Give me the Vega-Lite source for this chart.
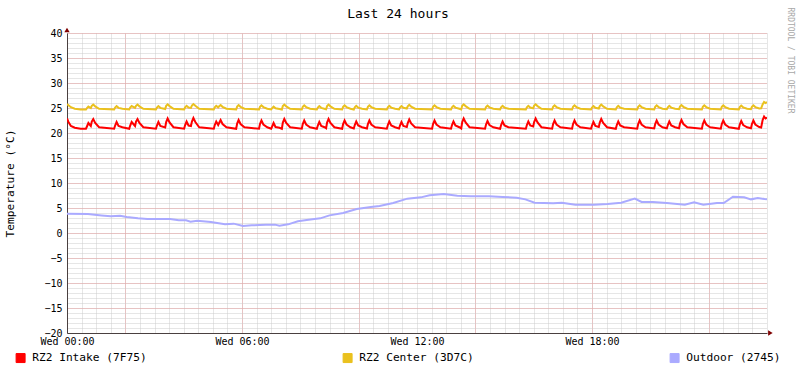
{
"$schema":"https://vega.github.io/schema/vega-lite/v6.json",
"autosize":{"type":"none"},
"width":700,"height":300,
"padding":{"left":67,"top":33,"right":30,"bottom":40},
"background":"white",
"config":{"view":{"stroke":null},"font":"DejaVu Sans Mono"},
"title":{"text":"Last 24 hours","font":"DejaVu Sans Mono","fontSize":13,"fontWeight":"normal","color":"black","anchor":"middle","dx":-19,"offset":-14},
"resolve":{"axis":{"y":"independent","x":"independent"}},
"layer":[
{
"data":{"values":[
{"t":0,"i":22.9,"c":25.8},{"t":3,"i":22.2,"c":25.55},{"t":8,"i":21.4,"c":25.15},{"t":16,"i":21.05,"c":24.85},{"t":28,"i":20.85,"c":24.7},
{"t":39,"i":20.85,"c":24.7},{"t":41,"i":21.3,"c":24.98},{"t":44,"i":22.0,"c":25.28},{"t":49,"i":21.4,"c":25.0},{"t":51,"i":22.3,"c":25.43},{"t":54,"i":22.8,"c":25.68},{"t":58,"i":22.0,"c":25.33},{"t":66,"i":21.15,"c":24.85},
{"t":97,"i":20.85,"c":24.7},{"t":99,"i":21.5,"c":25.08},{"t":102,"i":22.2,"c":25.38},{"t":106,"i":21.4,"c":25.03},{"t":114,"i":21.15,"c":24.85},
{"t":128,"i":20.85,"c":24.7},{"t":130,"i":21.5,"c":25.08},{"t":133,"i":22.2,"c":25.38},{"t":140,"i":21.4,"c":25.03},{"t":142,"i":22.3,"c":25.43},{"t":145,"i":22.8,"c":25.68},{"t":149,"i":22.0,"c":25.33},{"t":157,"i":21.15,"c":24.85},
{"t":183,"i":20.85,"c":24.7},{"t":185,"i":21.5,"c":25.08},{"t":188,"i":22.2,"c":25.38},{"t":192,"i":21.4,"c":25.03},{"t":202,"i":21.1,"c":24.8},{"t":204,"i":22.2,"c":25.43},{"t":207,"i":22.9,"c":25.73},{"t":211,"i":22.1,"c":25.38},{"t":219,"i":21.15,"c":24.85},
{"t":241,"i":20.85,"c":24.7},{"t":243,"i":21.6,"c":25.13},{"t":246,"i":22.3,"c":25.43},{"t":250,"i":21.5,"c":25.08},{"t":255,"i":21.4,"c":25.0},{"t":257,"i":22.3,"c":25.5},{"t":260,"i":23.0,"c":25.78},{"t":264,"i":22.2,"c":25.43},{"t":272,"i":21.15,"c":24.85},
{"t":302,"i":20.85,"c":24.7},{"t":304,"i":21.6,"c":25.13},{"t":307,"i":22.3,"c":25.43},{"t":311,"i":21.6,"c":25.13},{"t":313,"i":22.0,"c":25.35},{"t":316,"i":22.6,"c":25.58},{"t":320,"i":21.8,"c":25.23},{"t":328,"i":21.15,"c":24.85},
{"t":348,"i":20.85,"c":24.7},{"t":350,"i":21.9,"c":25.28},{"t":353,"i":22.6,"c":25.58},{"t":357,"i":21.8,"c":25.23},{"t":365,"i":21.15,"c":24.85},
{"t":395,"i":20.85,"c":24.7},{"t":397,"i":21.8,"c":25.23},{"t":400,"i":22.5,"c":25.53},{"t":404,"i":21.7,"c":25.18},{"t":412,"i":21.15,"c":24.85},
{"t":420,"i":20.85,"c":24.7},{"t":422,"i":21.3,"c":24.98},{"t":425,"i":22.0,"c":25.28},{"t":429,"i":21.2,"c":24.93},{"t":437,"i":21.05,"c":24.8},
{"t":442,"i":20.85,"c":24.7},{"t":444,"i":22.1,"c":25.38},{"t":447,"i":22.8,"c":25.68},{"t":451,"i":22.0,"c":25.33},{"t":459,"i":21.15,"c":24.85},
{"t":483,"i":20.85,"c":24.7},{"t":485,"i":21.8,"c":25.23},{"t":488,"i":22.5,"c":25.53},{"t":492,"i":21.7,"c":25.18},{"t":500,"i":21.15,"c":24.85},
{"t":514,"i":20.85,"c":24.7},{"t":516,"i":21.5,"c":25.08},{"t":519,"i":22.2,"c":25.38},{"t":523,"i":21.4,"c":25.03},{"t":531,"i":21.1,"c":24.8},
{"t":533,"i":20.95,"c":24.75},{"t":535,"i":22.1,"c":25.38},{"t":538,"i":22.8,"c":25.68},{"t":542,"i":22.0,"c":25.33},{"t":550,"i":21.15,"c":24.85},
{"t":566,"i":20.85,"c":24.7},{"t":568,"i":21.8,"c":25.23},{"t":571,"i":22.5,"c":25.53},{"t":575,"i":21.7,"c":25.18},{"t":583,"i":21.15,"c":24.85},
{"t":590,"i":20.9,"c":24.7},{"t":592,"i":21.6,"c":25.13},{"t":595,"i":22.3,"c":25.43},{"t":599,"i":21.5,"c":25.08},{"t":607,"i":21.15,"c":24.85},
{"t":617,"i":20.9,"c":24.7},{"t":619,"i":21.8,"c":25.23},{"t":622,"i":22.5,"c":25.53},{"t":626,"i":21.7,"c":25.18},{"t":634,"i":21.15,"c":24.85},
{"t":658,"i":20.85,"c":24.7},{"t":660,"i":21.6,"c":25.13},{"t":663,"i":22.3,"c":25.43},{"t":667,"i":21.5,"c":25.08},{"t":675,"i":21.15,"c":24.85},
{"t":683,"i":20.9,"c":24.7},{"t":685,"i":21.5,"c":25.08},{"t":688,"i":22.2,"c":25.38},{"t":692,"i":21.4,"c":25.03},{"t":699,"i":21.2,"c":24.9},{"t":701,"i":22.0,"c":25.33},{"t":704,"i":22.7,"c":25.63},{"t":708,"i":21.9,"c":25.28},{"t":716,"i":21.15,"c":24.85},
{"t":751,"i":20.85,"c":24.7},{"t":753,"i":21.8,"c":25.23},{"t":756,"i":22.5,"c":25.53},{"t":760,"i":21.7,"c":25.18},{"t":768,"i":21.15,"c":24.85},
{"t":790,"i":20.85,"c":24.7},{"t":792,"i":21.6,"c":25.13},{"t":795,"i":22.3,"c":25.43},{"t":799,"i":21.5,"c":25.08},{"t":807,"i":21.15,"c":24.85},
{"t":811,"i":20.9,"c":24.7},{"t":813,"i":22.2,"c":25.43},{"t":816,"i":22.9,"c":25.73},{"t":820,"i":22.1,"c":25.38},{"t":828,"i":21.15,"c":24.85},
{"t":860,"i":20.85,"c":24.7},{"t":862,"i":21.7,"c":25.18},{"t":865,"i":22.4,"c":25.48},{"t":869,"i":21.6,"c":25.13},{"t":877,"i":21.15,"c":24.85},
{"t":891,"i":20.85,"c":24.7},{"t":893,"i":21.6,"c":25.13},{"t":896,"i":22.3,"c":25.43},{"t":900,"i":21.5,"c":25.08},{"t":908,"i":21.15,"c":24.85},
{"t":944,"i":20.85,"c":24.7},{"t":946,"i":21.6,"c":25.13},{"t":949,"i":22.3,"c":25.43},{"t":953,"i":21.5,"c":25.08},{"t":959,"i":21.3,"c":24.95},{"t":961,"i":22.2,"c":25.48},{"t":964,"i":22.9,"c":25.73},{"t":968,"i":22.1,"c":25.38},{"t":976,"i":21.15,"c":24.85},
{"t":998,"i":20.85,"c":24.7},{"t":1000,"i":21.8,"c":25.23},{"t":1003,"i":22.5,"c":25.53},{"t":1007,"i":21.7,"c":25.18},{"t":1015,"i":21.15,"c":24.85},
{"t":1039,"i":20.85,"c":24.7},{"t":1041,"i":21.8,"c":25.23},{"t":1044,"i":22.5,"c":25.53},{"t":1048,"i":21.7,"c":25.18},{"t":1056,"i":21.15,"c":24.85},
{"t":1078,"i":20.85,"c":24.7},{"t":1080,"i":21.5,"c":25.08},{"t":1083,"i":22.2,"c":25.38},{"t":1087,"i":21.4,"c":25.03},{"t":1094,"i":21.2,"c":24.9},{"t":1096,"i":22.1,"c":25.38},{"t":1099,"i":22.8,"c":25.68},{"t":1103,"i":22.0,"c":25.33},{"t":1111,"i":21.15,"c":24.85},
{"t":1129,"i":20.85,"c":24.7},{"t":1131,"i":21.6,"c":25.13},{"t":1134,"i":22.3,"c":25.43},{"t":1138,"i":21.5,"c":25.08},{"t":1146,"i":21.15,"c":24.85},
{"t":1173,"i":20.85,"c":24.7},{"t":1175,"i":21.8,"c":25.23},{"t":1178,"i":22.5,"c":25.53},{"t":1182,"i":21.7,"c":25.18},{"t":1190,"i":21.15,"c":24.85},
{"t":1208,"i":20.9,"c":24.7},{"t":1210,"i":21.8,"c":25.23},{"t":1213,"i":22.5,"c":25.53},{"t":1217,"i":21.7,"c":25.18},{"t":1225,"i":21.15,"c":24.85},
{"t":1234,"i":20.95,"c":24.75},{"t":1236,"i":21.6,"c":25.13},{"t":1239,"i":22.3,"c":25.43},{"t":1243,"i":21.5,"c":25.08},{"t":1251,"i":21.15,"c":24.85},
{"t":1259,"i":20.95,"c":24.75},{"t":1261,"i":21.9,"c":25.28},{"t":1264,"i":22.6,"c":25.58},{"t":1268,"i":21.8,"c":25.23},{"t":1276,"i":21.15,"c":24.85},
{"t":1306,"i":20.85,"c":24.7},{"t":1308,"i":21.8,"c":25.23},{"t":1311,"i":22.5,"c":25.53},{"t":1315,"i":21.7,"c":25.18},{"t":1323,"i":21.15,"c":24.85},
{"t":1345,"i":20.85,"c":24.7},{"t":1347,"i":21.8,"c":25.23},{"t":1350,"i":22.5,"c":25.53},{"t":1354,"i":21.7,"c":25.18},{"t":1362,"i":21.15,"c":24.85},
{"t":1382,"i":20.85,"c":24.7},{"t":1384,"i":21.7,"c":25.18},{"t":1387,"i":22.4,"c":25.48},{"t":1391,"i":21.6,"c":25.13},{"t":1399,"i":21.15,"c":24.85},
{"t":1407,"i":20.95,"c":24.75},{"t":1409,"i":21.8,"c":25.23},{"t":1412,"i":22.5,"c":25.53},{"t":1416,"i":21.7,"c":25.18},{"t":1424,"i":21.2,"c":24.9},
{"t":1428,"i":21.1,"c":24.95},{"t":1431,"i":22.6,"c":25.7},{"t":1434,"i":23.3,"c":26.2},{"t":1437,"i":22.9,"c":26.0},{"t":1440,"i":23.1,"c":26.2},
{"t":0,"o":3.87},{"t":43,"o":3.8},{"t":71,"o":3.5},{"t":90,"o":3.33},{"t":109,"o":3.47},{"t":123,"o":3.2},{"t":146,"o":2.93},{"t":165,"o":2.8},{"t":212,"o":2.8},{"t":230,"o":2.53},{"t":245,"o":2.53},{"t":254,"o":2.27},{"t":268,"o":2.47},{"t":296,"o":2.2},{"t":325,"o":1.73},{"t":343,"o":1.87},{"t":362,"o":1.4},{"t":380,"o":1.53},{"t":409,"o":1.67},{"t":428,"o":1.67},{"t":437,"o":1.47},{"t":455,"o":1.73},{"t":475,"o":2.33},{"t":493,"o":2.6},{"t":521,"o":2.93},{"t":540,"o":3.53},{"t":568,"o":4.0},{"t":596,"o":4.8},{"t":625,"o":5.2},{"t":643,"o":5.4},{"t":671,"o":6.0},{"t":700,"o":6.87},{"t":728,"o":7.13},{"t":746,"o":7.53},{"t":775,"o":7.8},{"t":803,"o":7.47},{"t":830,"o":7.33},{"t":868,"o":7.33},{"t":896,"o":7.2},{"t":925,"o":7.07},{"t":943,"o":6.73},{"t":962,"o":6.07},{"t":1000,"o":5.93},{"t":1018,"o":6.07},{"t":1046,"o":5.67},{"t":1084,"o":5.67},{"t":1112,"o":5.8},{"t":1140,"o":6.07},{"t":1168,"o":6.87},{"t":1182,"o":6.2},{"t":1205,"o":6.2},{"t":1234,"o":6.0},{"t":1271,"o":5.67},{"t":1290,"o":6.13},{"t":1309,"o":5.67},{"t":1337,"o":6.0},{"t":1351,"o":6.0},{"t":1370,"o":7.27},{"t":1393,"o":7.13},{"t":1407,"o":6.73},{"t":1421,"o":7.0},{"t":1435,"o":6.8},{"t":1440,"o":6.75}
]},
"transform":[{"fold":["i","c","o"],"as":["k","v"]},{"filter":"isValid(datum.v)"}],
"mark":{"type":"line","strokeWidth":2,"clip":true},
"encoding":{
"x":{"field":"t","type":"quantitative","scale":{"domain":[0,1440],"nice":false,"zero":false},
"axis":{"title":null,"values":[0,30,60,90,120,150,180,210,240,270,300,330,360,390,420,450,480,510,540,570,600,630,660,690,720,750,780,810,840,870,900,930,960,990,1020,1050,1080,1110,1140,1170,1200,1230,1260,1290,1320,1350,1380,1410,1440],
"grid":true,"gridDash":[1,1],"gridOpacity":1,"gridColor":"#CCCCCC",
"ticks":false,"labelOverlap":false,"labelBound":false,"labelFlush":false,"labelPadding":3,"labelFont":"DejaVu Sans Mono","labelFontSize":10,"labelColor":"black",
"labelExpr":"datum.value === 0 ? 'Wed 00:00' : datum.value === 360 ? 'Wed 06:00' : datum.value === 720 ? 'Wed 12:00' : datum.value === 1080 ? 'Wed 18:00' : ''",
"domainColor":"#4a4040","domainWidth":1,"zindex":0}},
"y":{"field":"v","type":"quantitative","scale":{"domain":[-20,40],"nice":false,"zero":false},
"axis":{"values":[-20,-19,-18,-17,-16,-15,-14,-13,-12,-11,-10,-9,-8,-7,-6,-5,-4,-3,-2,-1,0,1,2,3,4,5,6,7,8,9,10,11,12,13,14,15,16,17,18,19,20,21,22,23,24,25,26,27,28,29,30,31,32,33,34,35,36,37,38,39,40],
"grid":true,"gridDash":[1,1],"gridOpacity":1,"gridColor":"#CCCCCC",
"ticks":false,"labelOverlap":false,"labelBound":false,"labelFlush":false,"labelPadding":5,"labelFont":"DejaVu Sans Mono","labelFontSize":10,"labelColor":"black",
"labelExpr":"datum.value % 5 === 0 ? datum.label : ''",
"domainColor":"#4a4040","domainWidth":1,"zindex":0,
"title":"Temperature (°C)","titleFont":"DejaVu Sans Mono","titleFontSize":11.2,"titleFontWeight":"normal","titleColor":"black","titleAngle":-90,"titleX":-57,"titleY":150,"titleAlign":"center","titleBaseline":"middle"}},
"color":{"field":"k","type":"nominal","scale":{"domain":["i","c","o"],"range":["#FF0000","#EAC11E","#AAAAFF"]},
"legend":{"orient":"none","legendX":-52,"legendY":319,"direction":"horizontal","columns":3,"gridAlign":"all","columnPadding":194,"title":null,"symbolType":"square","symbolSize":81,"symbolStrokeWidth":1,"labelFont":"DejaVu Sans Mono","labelFontSize":11.2,"labelOffset":6,"labelColor":"black",
"labelExpr":"datum.value === 'i' ? 'RZ2 Intake (7F75)' : datum.value === 'c' ? 'RZ2 Center (3D7C)' : 'Outdoor (2745)'",
"encode":{"symbols":{"update":{"fill":{"scale":"color","field":"value"},"fillOpacity":{"value":1},"stroke":{"value":"black"},"strokeWidth":{"value":1},"opacity":{"value":1}}}}}}
}
},
{
"data":{"values":[{"t":0,"v":40.6,"s":"triangle-up"},{"t":1447,"v":-20,"s":"triangle-right"}]},
"mark":{"type":"point","filled":true,"size":28,"color":"#7F0000","opacity":1},
"encoding":{
"x":{"field":"t","type":"quantitative","scale":{"domain":[0,1440],"nice":false,"zero":false},"axis":{"title":null,"labels":false,"ticks":false,"domain":false,"grid":true,"gridDash":[1,1],"gridOpacity":1,"gridColor":"#E8A0A0","values":[120,360,600,840,1080,1320],"zindex":0}},
"y":{"field":"v","type":"quantitative","scale":{"domain":[-20,40],"nice":false,"zero":false},
"axis":{"orient":"left","title":null,"labels":false,"ticks":false,"domain":false,"grid":true,"gridDash":[1,1],"gridOpacity":1,"gridColor":"#E8A0A0","values":[-20,-15,-10,-5,0,5,10,15,20,25,30,35,40],"zindex":0}},
"shape":{"field":"s","type":"nominal","scale":null}
}
},
{
"data":{"values":[{"t":0,"v":40.6,"s":"triangle-up"},{"t":1447,"v":-20,"s":"triangle-right"}]},
"mark":{"type":"point","opacity":0},
"encoding":{
"x":{"field":"t","type":"quantitative","scale":{"domain":[0,1440],"nice":false,"zero":false},"axis":null},
"y":{"field":"v","type":"quantitative","scale":{"domain":[-20,40],"nice":false,"zero":false},
"axis":{"orient":"right","labels":false,"ticks":false,"domain":false,"grid":false,"title":"RRDTOOL / TOBI OETIKER","titleFont":"DejaVu Sans Mono","titleFontSize":8,"titleFontWeight":"normal","titleColor":"#A8A8A8","titleAngle":90,"titleX":22,"titleY":27,"titleAlign":"center","titleBaseline":"middle"}}
}
}
]
}
